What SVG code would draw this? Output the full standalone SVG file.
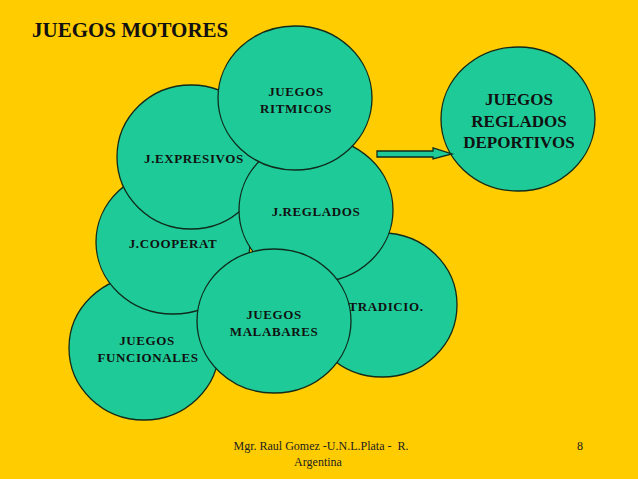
<svg xmlns="http://www.w3.org/2000/svg" width="638" height="479" viewBox="0 0 638 479">
<style>
.e{fill:#1ecb98;stroke:#102a1c;stroke-width:1.3}
.t{font-family:"Liberation Serif","Times New Roman",serif;font-weight:bold;font-size:13px;fill:#111;text-anchor:middle;letter-spacing:0.6px}
.big{font-size:17px;letter-spacing:0}
.f{font-family:"Liberation Serif","Times New Roman",serif;font-size:12px;fill:#222;text-anchor:middle}
</style>
<rect width="638" height="479" fill="#ffcc00"/>
<text x="32" y="37" font-family="Liberation Serif,Times New Roman,serif" font-weight="bold" font-size="21" fill="#111">JUEGOS MOTORES</text>
<g id="funcionales"><ellipse class="e" cx="144" cy="348" rx="75" ry="72"/></g>
<g id="cooperat"><ellipse class="e" cx="173" cy="242" rx="77" ry="72"/></g>
<g id="expresivos"><ellipse class="e" cx="191" cy="157" rx="74" ry="72"/></g>
<g id="tradicio"><ellipse class="e" cx="382" cy="305" rx="75" ry="72"/></g>
<g id="reglados"><ellipse class="e" cx="316" cy="210" rx="77" ry="72"/></g>
<g id="ritmicos"><ellipse class="e" cx="295" cy="98" rx="77" ry="72"/></g>
<g id="malabares"><ellipse class="e" cx="274" cy="321" rx="77" ry="72"/></g>
<g id="deportivos"><ellipse class="e" cx="518" cy="119" rx="77" ry="72"/></g>
<g id="connectors">
<polygon class="e" points="377,151 433,151 433,148 452,154 433,159 433,157 377,157"/>
</g>
<g id="labels">
<text class="t" x="147" y="345">JUEGOS</text>
<text class="t" x="148" y="362">FUNCIONALES</text>
<text class="t" x="173" y="248">J.COOPERAT</text>
<text class="t" x="194" y="163">J.EXPRESIVOS</text>
<text class="t" x="386" y="311">TRADICIO.</text>
<text class="t" x="316" y="216">J.REGLADOS</text>
<text class="t" x="296" y="96">JUEGOS</text>
<text class="t" x="296" y="113">RITMICOS</text>
<text class="t" x="274" y="319">JUEGOS</text>
<text class="t" x="274" y="336">MALABARES</text>
<text class="t big" x="519" y="105">JUEGOS</text>
<text class="t big" x="519" y="127">REGLADOS</text>
<text class="t big" x="519" y="148">DEPORTIVOS</text>
</g>
<text class="f" x="321" y="450" xml:space="preserve" font-size="12.4">Mgr. Raul Gomez -U.N.L.Plata -  R.</text>
<text class="f" x="318" y="466">Argentina</text>
<text class="f" x="580" y="450">8</text>
</svg>
